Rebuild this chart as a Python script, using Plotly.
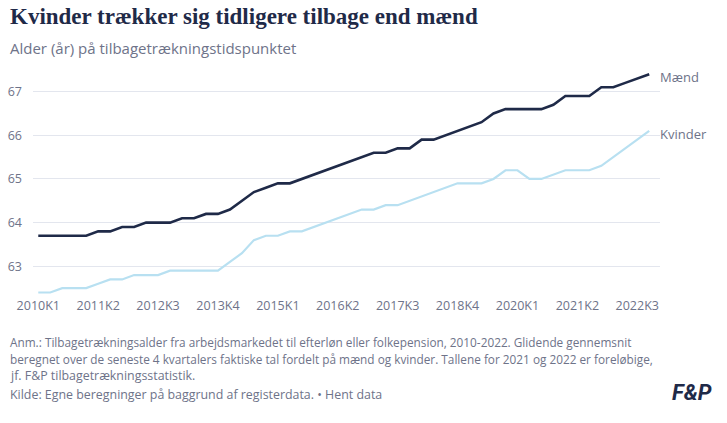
import plotly.graph_objects as go

# ---------------- data ----------------
years = list(range(2010, 2023))
quarters = [f"{y}K{q}" for y in years for q in (1, 2, 3, 4)]

maend = [63.7, 63.7, 63.7, 63.7, 63.7, 63.8, 63.8, 63.9, 63.9, 64.0,
         64.0, 64.0, 64.1, 64.1, 64.2, 64.2, 64.3, 64.5, 64.7, 64.8,
         64.9, 64.9, 65.0, 65.1, 65.2, 65.3, 65.4, 65.5, 65.6, 65.6,
         65.7, 65.7, 65.9, 65.9, 66.0, 66.1, 66.2, 66.3, 66.5, 66.6,
         66.6, 66.6, 66.6, 66.7, 66.9, 66.9, 66.9, 67.1, 67.1, 67.2,
         67.3, 67.4]

kvinder = [62.4, 62.4, 62.5, 62.5, 62.5, 62.6, 62.7, 62.7, 62.8, 62.8,
           62.8, 62.9, 62.9, 62.9, 62.9, 62.9, 63.1, 63.3, 63.6, 63.7,
           63.7, 63.8, 63.8, 63.9, 64.0, 64.1, 64.2, 64.3, 64.3, 64.4,
           64.4, 64.5, 64.6, 64.7, 64.8, 64.9, 64.9, 64.9, 65.0, 65.2,
           65.2, 65.0, 65.0, 65.1, 65.2, 65.2, 65.2, 65.3, 65.5, 65.7,
           65.9, 66.1]

tick_labels = ["2010K1", "2011K2", "2012K3", "2013K4", "2015K1", "2016K2",
               "2017K3", "2018K4", "2020K1", "2021K2", "2022K3"]
y_ticks = [63, 64, 65, 66, 67]

title = "Kvinder trækker sig tidligere tilbage end mænd"
subtitle = "Alder (år) på tilbagetrækningstidspunktet"
notes = [
    "Anm.: Tilbagetrækningsalder fra arbejdsmarkedet til efterløn eller folkepension, 2010-2022. Glidende gennemsnit",
    "beregnet over de seneste 4 kvartalers faktiske tal fordelt på mænd og kvinder. Tallene for 2021 og 2022 er foreløbige,",
    "jf. F&P tilbagetrækningsstatistik.",
]
source = "Kilde: Egne beregninger på baggrund af registerdata. • Hent data"

# ---------------- layout geometry ----------------
W, H = 727, 423
L, R, T, B = 33, 67, 65, 127
PW, PH = W - L - R, H - T - B


def px(x):
    return (x - L) / PW


def py(y):
    return (H - B - y) / PH


NAVY = "#1f2a48"
LIGHT = "#b8e0f1"
GRAY = "#6e7389"
FONT = "Open Sans"

fig = go.Figure()
fig.add_trace(go.Scatter(x=quarters, y=kvinder, mode="lines", name="Kvinder",
                         line=dict(color=LIGHT, width=2.2), hoverinfo="x+y"))
fig.add_trace(go.Scatter(x=quarters, y=maend, mode="lines", name="Mænd",
                         line=dict(color=NAVY, width=2.6), hoverinfo="x+y"))

ann = []
ann.append(dict(text=title, x=px(8), y=py(17), xref="paper", yref="paper",
                xanchor="left", yanchor="middle", showarrow=False,
                font=dict(family="Liberation Serif", size=23, color=NAVY, weight=600)))
ann.append(dict(text=subtitle, x=px(8), y=py(48), xref="paper", yref="paper",
                xanchor="left", yanchor="middle", showarrow=False,
                font=dict(family=FONT, size=15, color=GRAY)))
note_sizes = [11.8, 11.8, 12.4]
for i, line in enumerate(notes):
    ann.append(dict(text=line, x=px(8), y=py(342 + 16.5 * i), xref="paper", yref="paper",
                    xanchor="left", yanchor="middle", showarrow=False,
                    font=dict(family=FONT, size=note_sizes[i], color=GRAY)))
ann.append(dict(text=source, x=px(8), y=py(394), xref="paper", yref="paper",
                xanchor="left", yanchor="middle", showarrow=False,
                font=dict(family=FONT, size=12.4, color=GRAY)))
ann.append(dict(text="<b><i>F&amp;P</i></b>", x=px(714), y=py(392), xref="paper", yref="paper",
                xanchor="right", yanchor="middle", showarrow=False,
                font=dict(family="Roboto", size=22, color=NAVY)))
ann.append(dict(text="Mænd", x=1, y=maend[-1], xref="paper", yref="y",
                xanchor="left", yanchor="middle", showarrow=False, yshift=-3, xshift=-2,
                font=dict(family=FONT, size=13, color=GRAY)))
ann.append(dict(text="Kvinder", x=1, y=kvinder[-1], xref="paper", yref="y",
                xanchor="left", yanchor="middle", showarrow=False, yshift=-3, xshift=-2,
                font=dict(family=FONT, size=13, color=GRAY)))

fig.update_layout(
    width=W, height=H,
    margin=dict(l=L, r=R, t=T, b=B, autoexpand=False),
    paper_bgcolor="white", plot_bgcolor="white",
    showlegend=False,
    annotations=ann,
    xaxis=dict(type="category", categoryorder="array", categoryarray=quarters,
               range=[-0.44, 51.9], tickmode="array", tickvals=tick_labels,
               ticktext=tick_labels, showgrid=False, zeroline=False, showline=False,
               ticks="", automargin=False,
               tickfont=dict(family=FONT, size=12.5, color=GRAY)),
    yaxis=dict(range=[62.32, 67.61], tickmode="array", tickvals=y_ticks,
               showgrid=True, gridcolor="#e3e6ee", gridwidth=1, zeroline=False,
               showline=False, ticks="", ticklabelstandoff=10, automargin=False,
               tickfont=dict(family=FONT, size=12.5, color=GRAY)),
)

fig.write_html("out.html", config={"displayModeBar": False},
               post_script="document.body.style.margin='0';")
